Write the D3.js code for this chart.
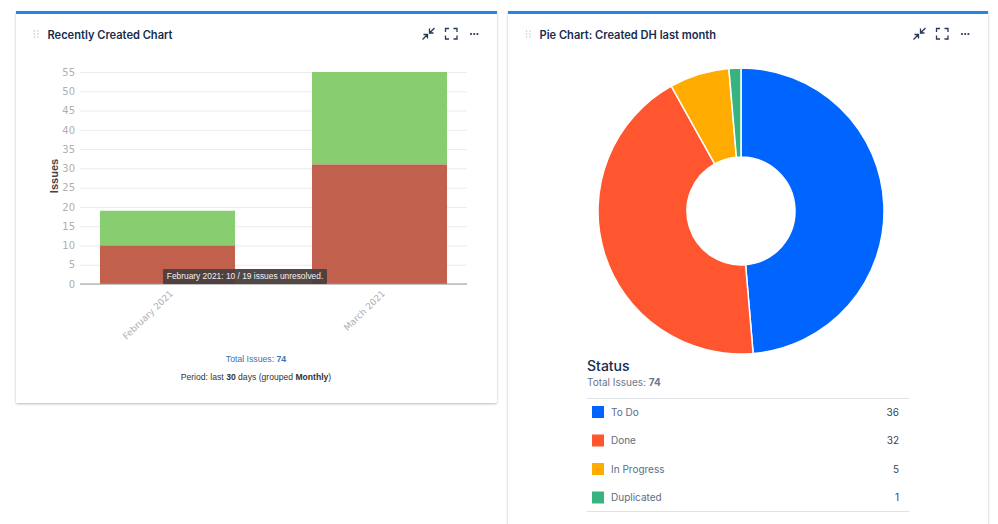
<!DOCTYPE html>
<html>
<head>
<meta charset="utf-8">
<script src="https://cdn.jsdelivr.net/npm/d3@7"></script>
<style>
html, body { margin: 0; padding: 0; background: #fff; overflow: hidden; }
svg { display: block; }
.cardTitle { font: 600 11.1px Inter, sans-serif; fill: #172b4d; }
.tick text { font: 10px "DejaVu Sans", sans-serif; fill: #b0b0b0; }
</style>
</head>
<body>
<script>
//chart data
var months = ["February 2021", "March 2021"];
var unresolved = [10, 31];
var resolved = [9, 24];
var yTicks = [0, 5, 10, 15, 20, 25, 30, 35, 40, 45, 50, 55];
var statuses = ["To Do", "Done", "In Progress", "Duplicated"];
var statusCounts = [36, 32, 5, 1];
var statusColors = ["#0065ff", "#ff5630", "#ffab00", "#36b37e"];

var svg = d3.select("body").append("svg")
    .attr("width", 998)
    .attr("height", 524);

//soft drop shadow for the cards and tooltip
var defs = svg.append("defs");
var shadow = defs.append("filter").attr("id", "cardShadow")
    .attr("x", "-5%").attr("y", "-5%").attr("width", "110%").attr("height", "110%");
shadow.append("feDropShadow")
    .attr("dx", 0).attr("dy", 1).attr("stdDeviation", 1)
    .attr("flood-color", "#091e42").attr("flood-opacity", 0.3);

setCard(16, 11, 481, 392, "Recently Created Chart");
setCard(508, 11, 480, 560, "Pie Chart: Created DH last month");
setBarChart();
setPieChart();
setLegend();

function setCard(x, y, w, h, title){
    var card = svg.append("g").attr("transform", "translate(" + x + "," + y + ")");
    card.append("rect")
        .attr("width", w).attr("height", h).attr("rx", 2)
        .attr("fill", "#fff")
        .attr("filter", "url(#cardShadow)");
    //blue strip along the top
    card.append("rect")
        .attr("width", w).attr("height", 3)
        .attr("fill", "#2684e4");
    card.append("text")
        .attr("class", "cardTitle")
        .attr("x", 31.5)
        .attr("y", 27.5)
        .text(title);

    //drag handle dots
    var handle = card.append("g").attr("fill", "#c1c7d0");
    [0, 1].forEach(function(col){
        [0, 1, 2].forEach(function(row){
            handle.append("circle")
                .attr("cx", 18.5 + col * 3.5)
                .attr("cy", 20 + row * 3)
                .attr("r", 0.8);
        });
    });

    //collapse, fullscreen and more icons
    var icons = svg.append("g")
        .attr("transform", "translate(" + (x + w - 76) + ",0)")
        .attr("fill", "none")
        .attr("stroke", "#253858")
        .attr("stroke-width", 1.3);
    icons.append("path").attr("d", "M1.500 39.500L6 35M2.500 34.500H6.500V38.500M13.500 28L9 32.500M8.500 28.500V33H12.500");
    icons.append("path").attr("d", "M24.500 32V28.500H28M32.500 28.500H36V32M24.500 35.500V39H28M36 35.500V39H32.500");
    icons.append("g").attr("fill", "#253858").attr("stroke", "none")
        .selectAll("circle")
        .data([0, 1, 2])
        .enter()
        .append("circle")
        .attr("cx", function(d){ return 50 + d * 3.2; })
        .attr("cy", 34)
        .attr("r", 1.1);
}

function setBarChart(){
    var x = d3.scaleBand()
        .domain(months)
        .range([61.5, 485.5])
        .paddingInner(0.363)
        .paddingOuter(0.1815);
    var y = d3.scaleLinear()
        .domain([0, 55])
        .range([284, 72]);

    var chart = svg.append("g");

    //gridlines and value axis
    var yAxis = d3.axisLeft(y)
        .tickValues(yTicks)
        .tickSize(-387)
        .tickPadding(5);
    var yGroup = chart.append("g")
        .attr("transform", "translate(80,0)")
        .call(yAxis);
    yGroup.select(".domain").remove();
    yGroup.selectAll(".tick line").attr("stroke", "#ebebeb");
    yGroup.selectAll(".tick text").attr("x", -5);

    //unresolved bars sit on the axis, resolved on top of them
    chart.selectAll(".resolved")
        .data(months)
        .enter()
        .append("rect")
        .attr("class", "resolved")
        .attr("x", function(d){ return x(d); })
        .attr("width", x.bandwidth())
        .attr("y", function(d, i){ return y(unresolved[i] + resolved[i]); })
        .attr("height", function(d, i){ return y(unresolved[i]) - y(unresolved[i] + resolved[i]); })
        .attr("fill", "#88ce71");
    chart.selectAll(".unresolved")
        .data(months)
        .enter()
        .append("rect")
        .attr("class", "unresolved")
        .attr("x", function(d){ return x(d); })
        .attr("width", x.bandwidth())
        .attr("y", function(d, i){ return y(unresolved[i]); })
        .attr("height", function(d, i){ return y(0) - y(unresolved[i]); })
        .attr("fill", "#c0604d");

    //category axis with slanted labels
    var xAxis = d3.axisBottom(x).tickSize(0).tickPadding(6);
    var xGroup = chart.append("g")
        .attr("transform", "translate(0,284)")
        .call(xAxis);
    xGroup.select(".domain")
        .attr("d", "M80,0H467")
        .attr("stroke", "#999");
    xGroup.selectAll(".tick text")
        .attr("text-anchor", "end")
        .attr("dy", 0)
        .style("font-size", "9px")
        .attr("transform", "translate(2,6) rotate(-44)");

    chart.append("text")
        .attr("transform", "translate(58,176) rotate(-90)")
        .attr("text-anchor", "middle")
        .attr("font-family", "'Liberation Sans', Arial, sans-serif")
        .attr("font-size", 11)
        .attr("font-weight", 700)
        .attr("fill", "#444")
        .text("Issues");

    //tooltip showing the hovered bar
    var tipText = months[0] + ": " + unresolved[0] + " / " + (unresolved[0] + resolved[0]) + " issues unresolved.";
    chart.append("rect")
        .attr("x", 163).attr("y", 269)
        .attr("width", 164).attr("height", 15)
        .attr("rx", 1)
        .attr("fill", "#4a3e3e")
        .attr("fill-opacity", 0.95);
    chart.append("text")
        .attr("x", 245).attr("y", 279)
        .attr("text-anchor", "middle")
        .attr("font-family", "'Liberation Sans', Arial, sans-serif")
        .attr("font-size", 8.4)
        .attr("fill", "#f1f1f1")
        .text(tipText);

    //footer text
    var total = chart.append("text")
        .attr("x", 256).attr("y", 362)
        .attr("text-anchor", "middle")
        .attr("font-family", "'Liberation Sans', Arial, sans-serif")
        .attr("font-size", 8.7)
        .attr("fill", "#3b73af");
    total.append("tspan").text("Total Issues: ");
    total.append("tspan").attr("font-weight", 700).text(d3.sum(statusCounts));

    var period = chart.append("text")
        .attr("x", 256).attr("y", 380)
        .attr("text-anchor", "middle")
        .attr("font-family", "'Liberation Sans', Arial, sans-serif")
        .attr("font-size", 8.6)
        .attr("fill", "#333");
    period.append("tspan").text("Period: last ");
    period.append("tspan").attr("font-weight", 700).text("30");
    period.append("tspan").text(" days (grouped ");
    period.append("tspan").attr("font-weight", 700).text("Monthly");
    period.append("tspan").text(")");
}

function setPieChart(){
    var pie = d3.pie().sort(null);
    var arc = d3.arc().innerRadius(54).outerRadius(143);

    svg.append("g")
        .attr("transform", "translate(741,211)")
        .selectAll("path")
        .data(pie(statusCounts))
        .enter()
        .append("path")
        .attr("d", arc)
        .attr("fill", function(d, i){ return statusColors[i]; })
        .attr("stroke", "#fff")
        .attr("stroke-width", 1.5);
}

function setLegend(){
    var legend = svg.append("g");
    legend.append("text")
        .attr("x", 587).attr("y", 371)
        .attr("font-family", "Inter, sans-serif")
        .attr("font-size", 14)
        .attr("font-weight", 500)
        .attr("fill", "#172b4d")
        .text("Status");
    var total = legend.append("text")
        .attr("x", 587).attr("y", 386)
        .attr("font-family", "Inter, sans-serif")
        .attr("font-size", 10)
        .attr("fill", "#6b778c");
    total.append("tspan").text("Total Issues: ");
    total.append("tspan").attr("font-weight", 700).text(d3.sum(statusCounts));

    var rowY = d3.scalePoint()
        .domain(statuses)
        .range([412, 497.5]);

    [398.5, 511.5].forEach(function(lineY){
        legend.append("line")
            .attr("x1", 587).attr("x2", 909)
            .attr("y1", lineY).attr("y2", lineY)
            .attr("stroke", "#dfe1e6");
    });

    var rows = legend.selectAll(".row")
        .data(statuses)
        .enter()
        .append("g")
        .attr("class", "row")
        .attr("transform", function(d){ return "translate(0," + rowY(d) + ")"; });
    rows.append("rect")
        .attr("x", 592).attr("y", -6)
        .attr("width", 12).attr("height", 12)
        .attr("fill", function(d, i){ return statusColors[i]; });
    rows.append("text")
        .attr("x", 611).attr("y", 3.5)
        .attr("font-family", "Inter, sans-serif")
        .attr("font-size", 10)
        .attr("fill", "#5e6c84")
        .text(function(d){ return d; });
    rows.append("text")
        .attr("x", 899).attr("y", 3.5)
        .attr("text-anchor", "end")
        .attr("font-family", "Inter, sans-serif")
        .attr("font-size", 10)
        .attr("fill", "#344563")
        .text(function(d, i){ return statusCounts[i]; });
}
</script>
</body>
</html>
